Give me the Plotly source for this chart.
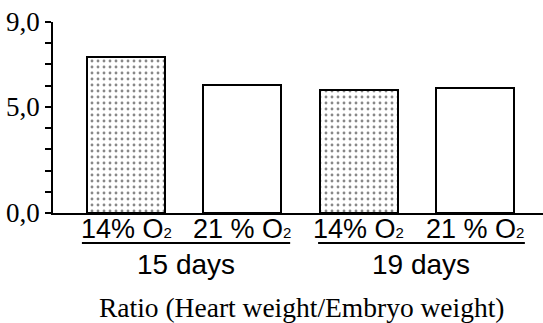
import plotly.graph_objects as go

categories = ["14% O2 (15 days)", "21% O2 (15 days)", "14% O2 (19 days)", "21% O2 (19 days)"]
values = [7.35, 6.05, 5.8, 5.9]
sub2 = '<span style="font-size:15px">2</span>'
bar_labels = ["14% O" + sub2, "21 % O" + sub2, "14% O" + sub2, "21 % O" + sub2]
group_labels = ["15 days", "19 days"]
patterned = [True, False, True, False]
y_tick_vals = [0, 1, 2, 3, 4, 5, 6, 7, 8, 9]
y_tick_text = ["0,0", "", "", "", "", "5,0", "", "", "", "9,0"]
title_text = "Ratio (Heart weight/Embryo weight)"

fig = go.Figure()
fig.add_trace(go.Bar(
    x=categories, y=values, width=0.67,
    marker=dict(
        color="white",
        line=dict(color="black", width=2),
        pattern=dict(
            shape=["." if p else "" for p in patterned],
            fgcolor="#111111", bgcolor="white", size=6, solidity=0.18,
        ),
    ),
    showlegend=False,
))

sans = "Liberation Sans, Arial, sans-serif"
serif = "Liberation Serif, Times New Roman, serif"

for c, lab in zip(categories, bar_labels):
    fig.add_annotation(x=c, y=-0.085, xref="x", yref="paper", text=lab, showarrow=False,
                       xanchor="center", yanchor="middle",
                       font=dict(family=sans, size=27, color="black"))

group_spans = [(0.059, 0.484), (0.541, 0.963)]
for (a, b), g in zip(group_spans, group_labels):
    fig.add_shape(type="line", xref="paper", yref="paper", x0=a, x1=b, y0=-0.157, y1=-0.157,
                  line=dict(color="black", width=2))
    fig.add_annotation(x=(a + b) / 2, y=-0.27, xref="paper", yref="paper", text=g,
                       showarrow=False, xanchor="center", yanchor="middle",
                       font=dict(family=sans, size=28, color="black"))

fig.add_annotation(x=0.508, y=-0.497, xref="paper", yref="paper", text=title_text,
                   showarrow=False, xanchor="center", yanchor="middle",
                   font=dict(family=serif, size=27.5, color="black"))

fig.update_layout(
    width=543, height=323,
    margin=dict(l=53, r=0, t=22, b=110),
    paper_bgcolor="white", plot_bgcolor="white",
    bargap=0,
    xaxis=dict(type="category", range=[-0.628, 3.585], showticklabels=False, ticks="",
               showline=True, linecolor="black", linewidth=1.5, showgrid=False, zeroline=False,
               automargin=False),
    yaxis=dict(range=[0, 9], tickvals=y_tick_vals, ticktext=y_tick_text, ticks="outside",
               ticklen=6, tickwidth=1.5, tickcolor="black", showline=True, linecolor="black",
               linewidth=1.5, showgrid=False, zeroline=False, automargin=False,
               tickfont=dict(family=serif, size=27, color="black")),
)

fig.write_html("out.html", config={"displayModeBar": False},
               post_script="document.body.style.margin='0';")
